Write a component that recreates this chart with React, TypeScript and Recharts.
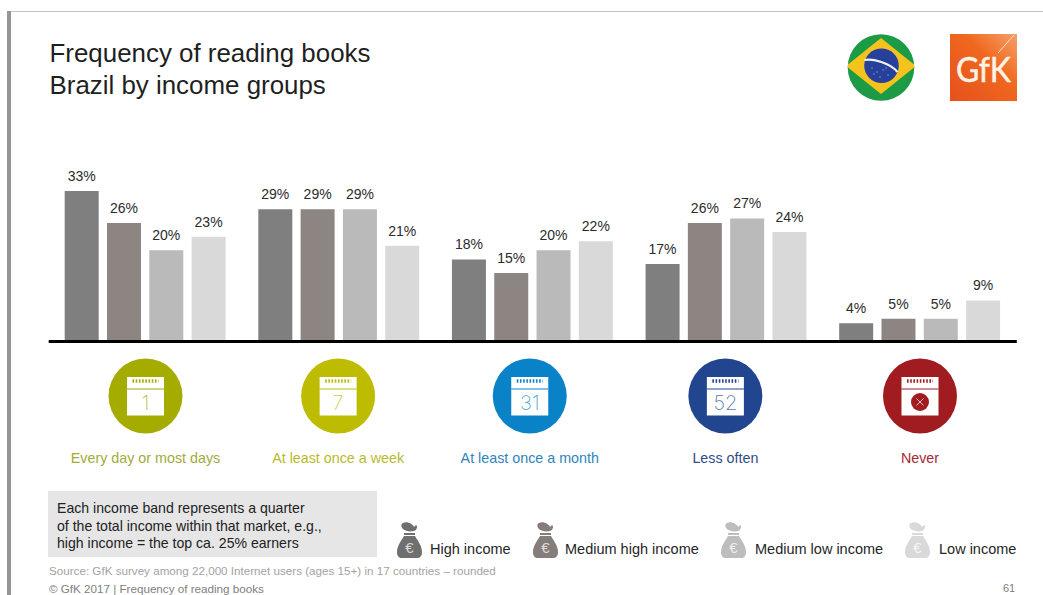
import { BarChart, Bar, XAxis, YAxis, LabelList } from 'recharts';

const frequencies = ['Every day or most days', 'At least once a week', 'At least once a month', 'Less often', 'Never'];
const calendarNumbers = ['1', '7', '31', '52', ''];

const highIncome = [33, 29, 18, 17, 4];
const mediumHighIncome = [26, 29, 15, 26, 5];
const mediumLowIncome = [20, 29, 20, 27, 5];
const lowIncome = [23, 21, 22, 24, 9];

const data = frequencies.map((name, i) => ({
    name,
    high: highIncome[i],
    mediumHigh: mediumHighIncome[i],
    mediumLow: mediumLowIncome[i],
    low: lowIncome[i],
}));

const series = [
    { key: 'high', color: '#7f7f7f' },
    { key: 'mediumHigh', color: '#8d8581' },
    { key: 'mediumLow', color: '#bababa' },
    { key: 'low', color: '#d9d9d9' },
];

const legendItems = [
    { label: 'High income', color: '#6f6f6f', bagX: 397, textX: 430 },
    { label: 'Medium high income', color: '#857d79', bagX: 533, textX: 565 },
    { label: 'Medium low income', color: '#bdbdbd', bagX: 721, textX: 755 },
    { label: 'Low income', color: '#d9d9d9', bagX: 905, textX: 939 },
];

const circleColors = ['#a5ac00', '#bdbc00', '#0a82c8', '#21468f', '#a01c20'];
const labelColors = ['#a3ab3a', '#b8ba2a', '#2f84ba', '#2f4c86', '#a32a36'];
const iconNudge = [0, -1, -3, -1, 0];

const FONT = '"Liberation Sans", Arial, sans-serif';

// Axis tick: round calendar badge with the frequency label under it
const FrequencyTick = ({ x, y, payload, index }: any) => {
    const i = payload?.index ?? index ?? 0;
    const cx = x + iconNudge[i];
    const color = circleColors[i];
    const top = y + 35.5;
    return (
        <g>
            <ellipse cx={cx} cy={y + 54.5} rx={37} ry={37.5} fill={color} />
            <rect x={cx - 18.5} y={top} width={37} height={38.5} fill="#fff" />
            <line x1={cx - 13} x2={cx + 13} y1={top + 4} y2={top + 4} stroke={color} strokeWidth={3.5} strokeDasharray="1.6 1.6" />
            <line x1={cx - 18.5} x2={cx + 18.5} y1={top + 12} y2={top + 12} stroke={color} strokeWidth={1.2} />
            {calendarNumbers[i] ? (
                <text x={cx} y={top + 33} textAnchor="middle" fontFamily="Inter" fontWeight={200} fontSize={20} fill={color} fillOpacity={0.75}>
                    {calendarNumbers[i]}
                </text>
            ) : (
                <g>
                    <circle cx={cx} cy={top + 25} r={9} fill={color} />
                    <path d={`M${cx - 3.5} ${top + 21.5}L${cx + 3.5} ${top + 28.5}M${cx + 3.5} ${top + 21.5}L${cx - 3.5} ${top + 28.5}`} stroke="#e8b8b8" strokeWidth={1} />
                </g>
            )}
            <text x={cx} y={y + 121.5} textAnchor="middle" fontFamily={FONT} fontSize={14.3} fill={labelColors[i]}>
                {frequencies[i]}
            </text>
        </g>
    );
};

const MoneyBag = ({ x, color }: { x: number; color: string }) => (
    <svg style={{ position: 'absolute', left: x, top: 522 }} width={26} height={37} viewBox="0 0 26 37">
        <path d="M6 1 C10 -1 16 2 17 5 L19 3 C21 4 20 8 17 9 C13 10 7 9 5 6 C4 4 4 2 6 1Z" fill={color} />
        <path d="M7 11 L18 11 L18 13 L7 13Z" fill={color} />
        <path d="M7 14 L18 14 C21 19 25 24 25 30 C25 34 23 36 20 36 L5 36 C2 36 0 34 0 30 C0 24 4 19 7 14Z" fill={color} />
        <text x={12.5} y={31} textAnchor="middle" fontFamily={FONT} fontSize={15} fill="#fff" fillOpacity={0.75}>€</text>
    </svg>
);

const textStyle = (left: number, top: number, fontSize: number, color: string) => ({
    position: 'absolute' as const,
    left,
    top,
    fontSize,
    color,
    lineHeight: 1,
    whiteSpace: 'nowrap' as const,
});

export default function App() {
    return (
        <div style={{ position: 'absolute', left: 0, top: 0, width: 1043, height: 595, overflow: 'hidden', background: '#fff', fontFamily: FONT }}>
            {/* Slide frame */}
            <div style={{ position: 'absolute', left: 7, top: 11, width: 1036, height: 1, background: '#c4c4c4' }} />
            <div style={{ position: 'absolute', left: 7, top: 11, width: 4, height: 584, background: '#959595' }} />

            <div style={{ position: 'absolute', left: 49.5, top: 38, fontSize: 25.9, lineHeight: '31.5px', color: '#1f1f1f', whiteSpace: 'nowrap' }}>
                Frequency of reading books<br />Brazil by income groups
            </div>

            {/* Flag badge */}
            <svg style={{ position: 'absolute', left: 846, top: 32 }} width={70} height={72} viewBox="846 32 70 72">
                <defs>
                    <clipPath id="flag-clip"><circle cx={881} cy={67.5} r={33.3} /></clipPath>
                </defs>
                <g clipPath="url(#flag-clip)">
                    <rect x={846} y={32} width={70} height={72} fill="#1c9a45" />
                    <path d="M881 38 L916 66 L881 94 L846 66Z" fill="#f6c31c" />
                    <circle cx={881.5} cy={65.7} r={17.3} fill="#26409c" />
                    <path d="M864.5 60 C873 58.5 890 63 897.5 72" fill="none" stroke="#eef2f2" strokeWidth={2.2} />
                    <path d="M872 68h.1M877 72h.1M883 70h.1M888 75h.1M880 77h.1M874 74h.1M886 68h.1" stroke="#dfe6f5" strokeWidth={1} strokeLinecap="round" />
                </g>
            </svg>

            {/* Company logo */}
            <svg style={{ position: 'absolute', left: 950, top: 34 }} width={67} height={67} viewBox="0 0 67 67">
                <defs>
                    <linearGradient id="logo-fill" x1="1" y1="0" x2="0" y2="1">
                        <stop offset="0" stopColor="#f6a06a" />
                        <stop offset="0.4" stopColor="#f0681f" />
                        <stop offset="1" stopColor="#e6501c" />
                    </linearGradient>
                </defs>
                <rect width={67} height={67} fill="url(#logo-fill)" />
                <text x={6} y={48} fontFamily="Lato, sans-serif" fontSize={34} fill="#fff3e6" stroke="#fff3e6" strokeWidth={0.5} textLength={55} lengthAdjust="spacingAndGlyphs">GfK</text>
                <path d="M48 19 L64 1" stroke="#fde3cf" strokeWidth={1} />
            </svg>

            <div style={{ position: 'absolute', left: 0, top: 0 }}>
                <BarChart
                    width={1043}
                    height={595}
                    data={data}
                    barSize={34}
                    barGap={8.3}
                    margin={{ top: 150, right: 26.2, bottom: 123.5, left: 48.7 }}
                >
                    <XAxis
                        dataKey="name"
                        height={130}
                        tickSize={0}
                        tickMargin={0}
                        tickLine={false}
                        interval={0}
                        axisLine={{ stroke: '#000', strokeWidth: 3 }}
                        tick={<FrequencyTick />}
                    />
                    <YAxis hide domain={[0, 42]} />
                    {series.map((s) => (
                        <Bar key={s.key} dataKey={s.key} fill={s.color} isAnimationActive={false}>
                            <LabelList
                                dataKey={s.key}
                                position="top"
                                offset={10}
                                formatter={(v: any) => `${v}%`}
                                style={{ fontFamily: FONT, fontSize: 14, fill: '#2b2b2b' }}
                            />
                        </Bar>
                    ))}
                </BarChart>
            </div>

            {/* Note box */}
            <div style={{ position: 'absolute', left: 48, top: 491, width: 329, height: 66, background: '#e6e6e6' }} />
            <div style={{ position: 'absolute', left: 57, top: 500, fontSize: 14.1, lineHeight: '17.7px', color: '#222', whiteSpace: 'nowrap' }}>
                Each income band represents a quarter<br />
                of the total income within that market, e.g.,<br />
                high income = the top ca. 25% earners
            </div>

            {/* Income legend */}
            {legendItems.map((item) => (
                <div key={item.label}>
                    <MoneyBag x={item.bagX} color={item.color} />
                    <div style={textStyle(item.textX, 542, 14.5, '#262626')}>{item.label}</div>
                </div>
            ))}

            <div style={textStyle(49, 565, 11.65, '#a3a3a3')}>Source: GfK survey among 22,000 Internet users (ages 15+) in 17 countries – rounded</div>
            <div style={{ ...textStyle(49, 582, 11.65, '#808080'), lineHeight: '13px' }}>© GfK 2017 | Frequency of reading books</div>
            <div style={{ ...textStyle(1003, 582, 11, '#808080'), lineHeight: '13px' }}>61</div>
        </div>
    );
}
